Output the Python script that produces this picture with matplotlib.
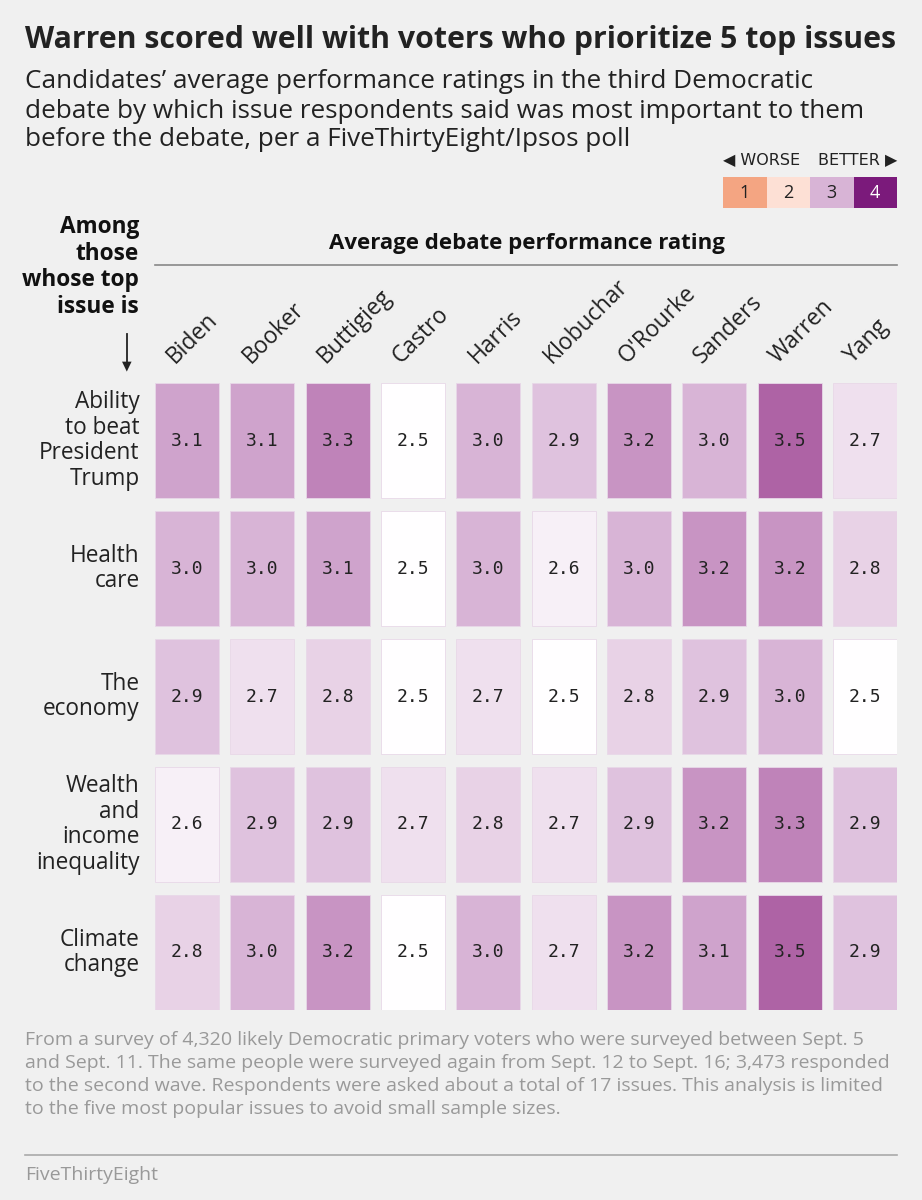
import numpy as np
import matplotlib.pyplot as plt
from matplotlib.colors import LinearSegmentedColormap, Normalize

# datos
candidatos = ["Biden", "Booker", "Buttigieg", "Castro", "Harris", "Klobuchar",
              "O'Rourke", "Sanders", "Warren", "Yang"]
temas = ["Ability\nto beat\nPresident\nTrump", "Health\ncare", "The\neconomy",
         "Wealth\nand\nincome\ninequality", "Climate\nchange"]
ability = [3.1, 3.1, 3.3, 2.5, 3.0, 2.9, 3.2, 3.0, 3.5, 2.7]
health = [3.0, 3.0, 3.1, 2.5, 3.0, 2.6, 3.0, 3.2, 3.2, 2.8]
economy = [2.9, 2.7, 2.8, 2.5, 2.7, 2.5, 2.8, 2.9, 3.0, 2.5]
wealth = [2.6, 2.9, 2.9, 2.7, 2.8, 2.7, 2.9, 3.2, 3.3, 2.9]
climate = [2.8, 3.0, 3.2, 2.5, 3.0, 2.7, 3.2, 3.1, 3.5, 2.9]
valores = [ability, health, economy, wealth, climate]
leyenda = [1, 2, 3, 4]

W, H = 922, 1200
BG = "#f0f0f0"
plt.rcParams['font.family'] = ['Open Sans', 'DejaVu Sans']

cmap = LinearSegmentedColormap.from_list("fte", [
    (0.0, "#f4a582"), (1/3, "#fde0d5"), (0.5, "#ffffff"),
    (2/3, "#d8b4d6"), (5/6, "#af64a6"), (1.0, "#7b1a7b")])
norm = Normalize(1, 4)

fig = plt.figure(figsize=(W / 100, H / 100), dpi=100, facecolor=BG)

def fx(x):
    return x / W

def fy(y):
    return 1 - y / H

# Titulo
fig.text(fx(25), fy(40), "Warren scored well with voters who prioritize 5 top issues",
         fontsize=21.8, fontweight='bold', color='#222222', va='center')
sub = ["Candidates\u2019 average performance ratings in the third Democratic",
       "debate by which issue respondents said was most important to them",
       "before the debate, per a FiveThirtyEight/Ipsos poll"]
for i, linea in enumerate(sub):
    fig.text(fx(25), fy(82 + 29 * i), linea, fontsize=18.8, color='#222222', va='center')

# Leyenda
ax_l = fig.add_axes([fx(723), fy(208), fx(897) - fx(723), fy(177) - fy(208)])
ax_l.bar(range(4), [1] * 4, width=1.0, color=[cmap(norm(v)) for v in leyenda])
for i, v in enumerate(leyenda):
    ax_l.text(i, 0.5, str(v), ha='center', va='center', fontsize=13,
              color='white' if v == 4 else '#222222')
ax_l.set_xlim(-0.5, 3.5)
ax_l.set_ylim(0, 1)
ax_l.axis('off')
fig.text(fx(723), fy(160), "\u25c0 WORSE", fontsize=11.5, color='#222222', va='center',
         family=['DejaVu Sans'])
fig.text(fx(897), fy(160), "BETTER \u25b6", fontsize=11.5, color='#222222', va='center',
         ha='right', family=['DejaVu Sans'])

# Encabezados
for i, linea in enumerate(["Among", "those", "whose top", "issue is"]):
    fig.text(fx(139), fy(227 + 26.7 * i), linea, fontsize=16.3, fontweight='bold',
             ha='right', va='center', color='#111111')
fig.text(fx(527), fy(243), "Average debate performance rating", fontsize=16,
         fontweight='bold', ha='center', va='center', color='#111111')
fig.add_artist(plt.Line2D([fx(155), fx(897)], [fy(265), fy(265)], color='#888888', lw=1.2))
fig.add_artist(plt.Line2D([fx(127), fx(127)], [fy(334), fy(368)], color='#222222', lw=1.3))
fig.text(fx(127), fy(366), "\u25bc", fontsize=9, ha='center', va='center', color='#222222',
         family=['DejaVu Sans'])

# Mapa de calor
ax = fig.add_axes([fx(155), fy(1010), fx(897) - fx(155), fy(383) - fy(1010)])
ax.set_facecolor(BG)
n = len(candidatos)
for r, fila in enumerate(valores):
    ax.bar(np.arange(n), [0.9] * n, bottom=r - 0.45, width=0.85,
           color=[cmap(norm(v)) for v in fila], edgecolor='#e8d8e8', linewidth=0.6)
    for c, v in enumerate(fila):
        ax.text(c, r, f"{v:.1f}", ha='center', va='center', fontsize=13,
                family=['DejaVu Sans Mono'], color='#222222')
    ax.text(-0.63, r, temas[r], ha='right', va='center', fontsize=16.3,
            color='#222222', linespacing=1.08)
for c, nombre in enumerate(candidatos):
    ax.text(c - 0.16, -0.6, nombre, rotation=45, rotation_mode='anchor',
            ha='left', va='baseline', fontsize=16.5, color='#222222')
ax.set_xlim(-0.425, n - 0.575)
ax.set_ylim(4.45, -0.45)
ax.axis('off')

# Nota
nota = ["From a survey of 4,320 likely Democratic primary voters who were surveyed between Sept. 5",
        "and Sept. 11. The same people were surveyed again from Sept. 12 to Sept. 16; 3,473 responded",
        "to the second wave. Respondents were asked about a total of 17 issues. This analysis is limited",
        "to the five most popular issues to avoid small sample sizes."]
for i, linea in enumerate(nota):
    fig.text(fx(25), fy(1040 + 23 * i), linea, fontsize=14, color='#999999', va='center')
fig.add_artist(plt.Line2D([fx(25), fx(897)], [fy(1155), fy(1155)], color='#aaaaaa', lw=1.2))
fig.text(fx(25), fy(1175), "FiveThirtyEight", fontsize=14, color='#999999', va='center')

fig.savefig("out.png", dpi=100, facecolor=BG)
